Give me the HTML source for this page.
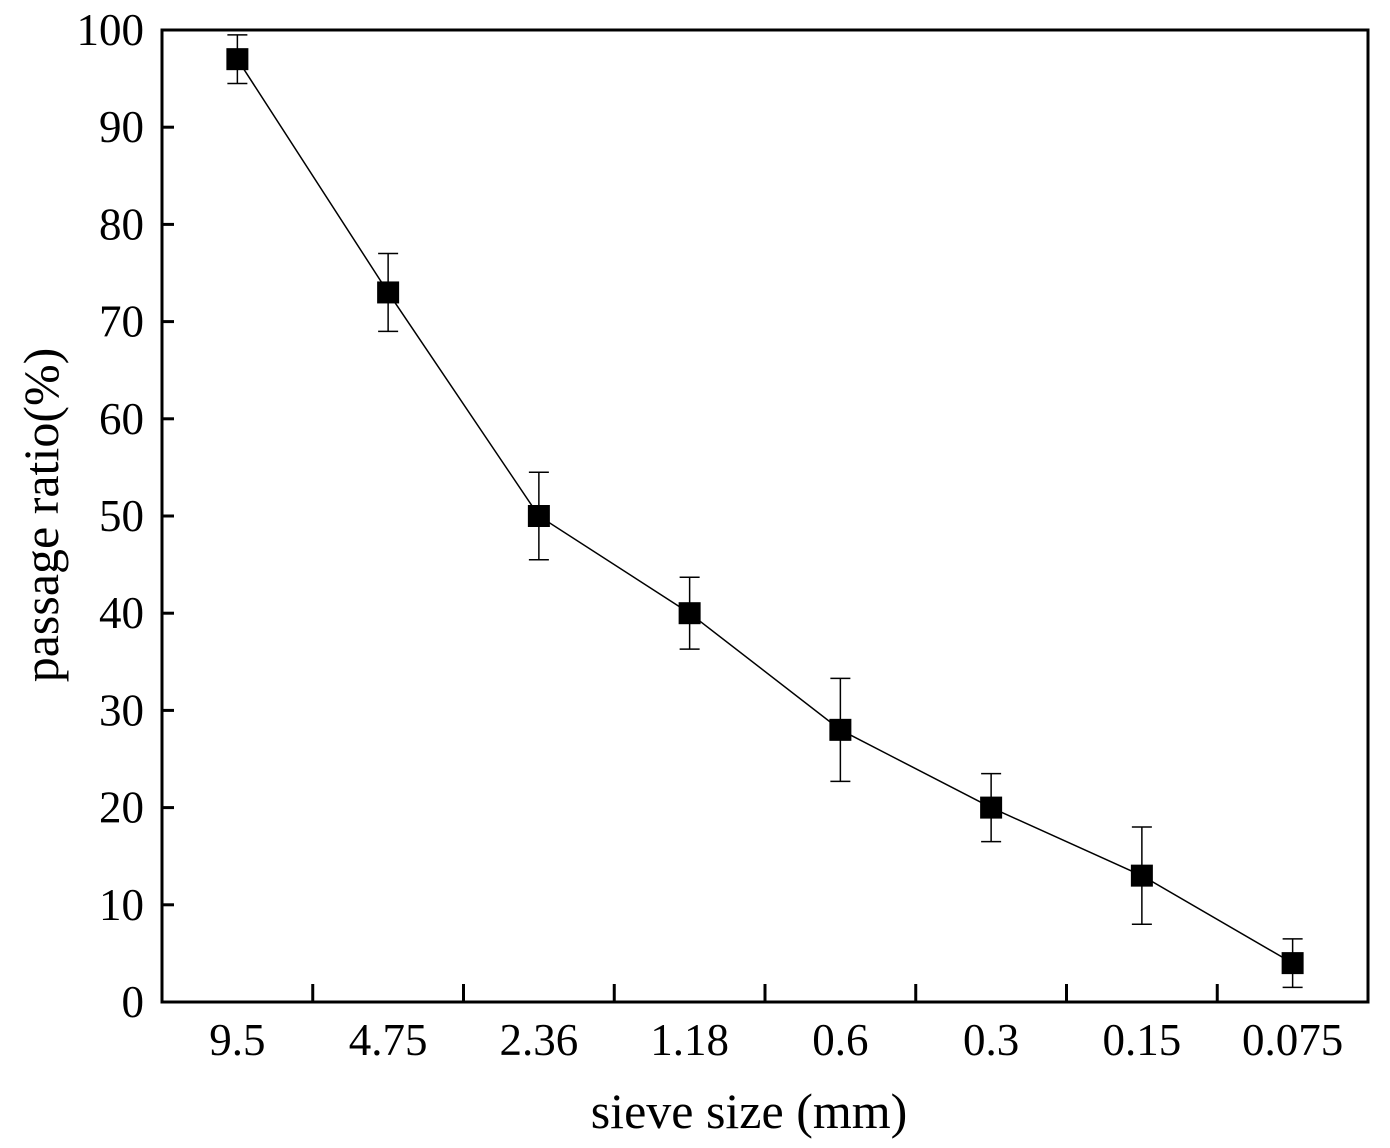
<!DOCTYPE html>
<html><head><meta charset="utf-8"><style>
html,body{margin:0;padding:0;background:#fff;}
svg{display:block;font-family:"Liberation Serif",serif;}
</style></head><body>
<svg id="chart" width="1390" height="1148" viewBox="0 0 1390 1148"></svg>
<script>
const categories=["9.5","4.75","2.36","1.18","0.6","0.3","0.15","0.075"];
const values=[97,73,50,40,28,20,13,4];
const errors=[2.5,4,4.5,3.7,5.3,3.5,5,2.5];
const yTicks=[0,10,20,30,40,50,60,70,80,90,100];

const L=162,R=1368,T=30,B=1002;
const step=(R-L)/8;
const xPos=i=>L+step*(i+0.5);
const yPos=v=>B-(v/100)*(B-T);
const svg=document.getElementById('chart');
const NS='http://www.w3.org/2000/svg';
function mk(tag,attrs,parent){const e=document.createElementNS(NS,tag);for(const k in attrs)e.setAttribute(k,attrs[k]);(parent||svg).appendChild(e);return e;}

const frame=mk('rect',{x:L,y:T,width:R-L,height:B-T,fill:'none',stroke:'#000','stroke-width':3});



yTicks.forEach(v=>{
  const y=yPos(v);
  const t=mk('line',{x1:L,x2:L+12,y1:y,y2:y,stroke:'#000','stroke-width':3});
  
  
  const lb=mk('text',{x:L-18,y:y+15,'text-anchor':'end','font-size':45});
  lb.textContent=v;
  
  
});
for(let i=1;i<categories.length;i++){
  const x=L+step*i;
  const t=mk('line',{x1:x,x2:x,y1:B,y2:B-18,stroke:'#000','stroke-width':3});
  
  
}
categories.forEach((c,i)=>{
  const lb=mk('text',{x:xPos(i),y:1055,'text-anchor':'middle','font-size':45});
  lb.textContent=c;
  
  
});

const pts=values.map((v,i)=>xPos(i)+','+yPos(v)).join(' ');
const pl=mk('polyline',{points:pts,fill:'none',stroke:'#000','stroke-width':1.5});



values.forEach((v,i)=>{
  const x=xPos(i),y1=yPos(v+errors[i]),y2=yPos(v-errors[i]);
  const g=mk('g',{});
  
  
  mk('line',{x1:x,x2:x,y1:y1,y2:y2,stroke:'#000','stroke-width':1.5},g);
  mk('line',{x1:x-10,x2:x+10,y1:y1,y2:y1,stroke:'#000','stroke-width':1.5},g);
  mk('line',{x1:x-10,x2:x+10,y1:y2,y2:y2,stroke:'#000','stroke-width':1.5},g);
  const m=mk('rect',{x:x-11,y:yPos(v)-11,width:22,height:22,fill:'#000'});
  
  
});

const xt=mk('text',{x:749,y:1128,'text-anchor':'middle','font-size':50});
xt.textContent='sieve size (mm)';


const yt=mk('text',{x:0,y:0,'text-anchor':'middle','font-size':50,transform:'translate(58,515) rotate(-90)'});
yt.textContent='passage ratio(%)';


</script>
</body></html>
